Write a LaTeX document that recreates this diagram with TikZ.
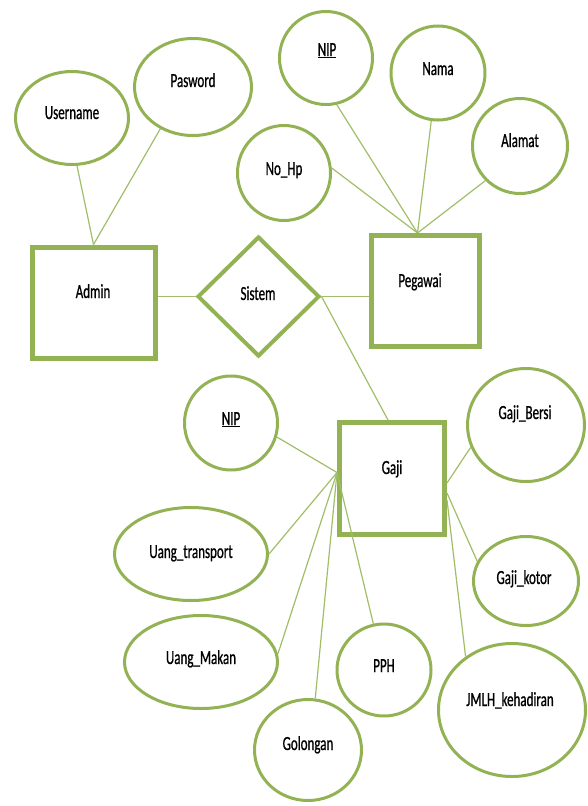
\documentclass[tikz,border=0pt]{standalone}
\usepackage{fontspec}
\setmainfont{Carlito}[FakeStretch=0.65,FakeBold=0.8]
\usetikzlibrary{shapes.geometric}
\definecolor{erg}{RGB}{146,178,84}
\definecolor{erl}{RGB}{160,190,105}
\begin{document}
\begin{tikzpicture}[x=1pt,y=-1pt,
  attr/.style={ellipse, draw=erg, line width=3pt, inner sep=0pt},
  ent/.style={rectangle, draw=erg, line width=5pt, inner sep=0pt},
  rel/.style={diamond, draw=erg, line width=4pt, inner sep=0pt},
  txt/.style={font=\fontsize{20}{24}\selectfont, text=black, inner sep=0pt, anchor=base},
  conn/.style={draw=erl, line width=1.2pt}]
\useasboundingbox (0,0) rectangle (587,806);

% entities and relation
\node[ent, minimum width=123pt, minimum height=111pt] (admin) at (93.5,302.5) {};
\node[ent, minimum width=108pt, minimum height=111pt] (pegawai) at (425.5,291) {};
\node[ent, minimum width=105pt, minimum height=112pt] (gaji) at (392,478.5) {};
\node[rel, minimum width=122pt, minimum height=120pt] (sistem) at (258.5,296.5) {};

% attributes
\node[attr, minimum width=113pt, minimum height=93pt] (user) at (72,118) {};
\node[attr, minimum width=117pt, minimum height=97pt] (pasw) at (193,87) {};
\node[attr, minimum width=93pt, minimum height=93pt] (nipa) at (326,58) {};
\node[attr, minimum width=94pt, minimum height=94pt] (nama) at (438,73) {};
\node[attr, minimum width=95pt, minimum height=95pt] (alamat) at (520,146) {};
\node[attr, minimum width=93pt, minimum height=95pt] (nohp) at (284,173) {};
\node[attr, minimum width=93pt, minimum height=94pt] (nipb) at (231,423) {};
\node[attr, minimum width=153pt, minimum height=93pt] (utrans) at (191,554) {};
\node[attr, minimum width=153pt, minimum height=93pt] (umakan) at (201,662) {};
\node[attr, minimum width=107pt, minimum height=101pt] (golongan) at (308,750) {};
\node[attr, minimum width=94pt, minimum height=92pt] (pph) at (384,670) {};
\node[attr, minimum width=147pt, minimum height=133pt] (jmlh) at (512,710) {};
\node[attr, minimum width=105pt, minimum height=89pt] (gkotor) at (526,581) {};
\node[attr, minimum width=117pt, minimum height=113pt] (gbersi) at (526,425) {};

% texts
\node[txt] (tuser) at (72,119) {Username};
\node[txt] (tpasw) at (193,87) {Pasword};
\node[txt] (tnipa) at (327,56) {\underline{NIP}};
\node[txt] (tnama) at (438,75) {Nama};
\node[txt] (talamat) at (520,147) {Alamat};
\node[txt] (tnohp) at (284,175) {No\_Hp};
\node[txt] (tadmin) at (93,298) {Admin};
\node[txt] (tsistem) at (258,300) {Sistem};
\node[txt] (tpegawai) at (420,287) {Pegawai};
\node[txt] (tgaji) at (392,474) {Gaji};
\node[txt] (tnipb) at (231,425) {\underline{NIP}};
\node[txt] (tutrans) at (191,558) {Uang\_transport};
\node[txt] (tumakan) at (201,664) {Uang\_Makan};
\node[txt] (tgolongan) at (308,750) {Golongan};
\node[txt] (tpph) at (384,672) {PPH};
\node[txt] (tjmlh) at (510,706) {JMLH\_kehadiran};
\node[txt] (tgkotor) at (524,584) {Gaji\_kotor};
\node[txt] (tgbersi) at (525,419) {Gaji\_Bersi};

% connectors
\coordinate (pgtop) at ([xshift=-8pt]pegawai.north);
\coordinate (gl) at ([yshift=6pt]gaji.west);
\draw[conn] (user.-84) -- (admin.north);
\draw[conn] (pasw.-128) -- (admin.north);
\draw[conn] (sistem.west -| admin.east) -- (sistem.west);
\draw[conn] (sistem.east) -- (sistem.east -| pegawai.west);
\draw[conn] (nipa.-77) -- (pgtop);
\draw[conn] (nama.-98) -- (pgtop);
\draw[conn] (alamat.-135) -- (pgtop);
\draw[conn] (nohp.6) -- (pgtop);
\draw[conn] (sistem.east) -- ([xshift=-4pt]gaji.north);
\draw[conn] (nipb.-17) -- (gl);
\draw[conn] (utrans.east) -- (gl);
\draw[conn] (umakan.6) -- (gl);
\draw[conn] (golongan.82) -- (gl);
\draw[conn] (pph.103) -- (gl);
\draw[conn] (gbersi.-158) -- ([yshift=-4.5pt]gaji.east);
\draw[conn] (gkotor.158) -- ([yshift=-14.5pt]gaji.east);
\draw[conn] (jmlh.131) -- ([yshift=-21.5pt]gaji.east);
\end{tikzpicture}
\end{document}
